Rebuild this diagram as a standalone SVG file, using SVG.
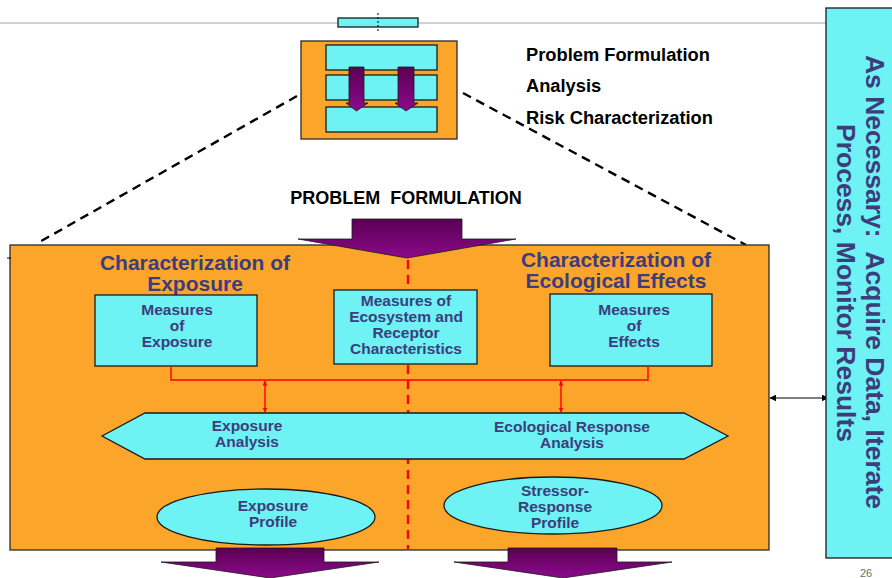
<svg xmlns="http://www.w3.org/2000/svg" width="892" height="578" viewBox="0 0 892 578">
  <defs>
    <linearGradient id="purpleFill" x1="0" y1="0" x2="0" y2="1">
      <stop offset="0" stop-color="#5a0052"/>
      <stop offset="1" stop-color="#8c0a8c"/>
    </linearGradient>
    <marker id="redHead" viewBox="0 0 10 10" refX="9" refY="5" markerWidth="5" markerHeight="5" orient="auto-start-reverse" markerUnits="userSpaceOnUse">
      <path d="M0,0 L10,5 L0,10 z" fill="#ff0000"/>
    </marker>
    <marker id="blackHead" viewBox="0 0 10 10" refX="9" refY="5" markerWidth="7" markerHeight="7" orient="auto-start-reverse" markerUnits="userSpaceOnUse">
      <path d="M0,0 L10,5 L0,10 z" fill="#000"/>
    </marker>
  </defs>
  <style>
    .box { fill: #6ef2f4; stroke: #1a1a1a; stroke-width: 1.3; }
    .orange { fill: #fba62b; stroke: #2a2a2a; stroke-width: 1.3; }
    .arrow { fill: url(#purpleFill); stroke: #1a1a1a; stroke-width: 0.8; }
    .lbl { font-family: "Liberation Sans", Arial, sans-serif; font-weight: bold; fill: #3d3d7c; text-anchor: middle; }
    .small { font-size: 15.5px; }
    .head { font-size: 21px; }
    .side { font-size: 26.5px; }
    .black { font-family: "Liberation Sans", Arial, sans-serif; font-weight: bold; fill: #000; }
    .dash { fill: none; stroke: #000; stroke-width: 2.4; stroke-dasharray: 9 6; }
    .red { fill: none; stroke: #ff0000; stroke-width: 1.4; }
  </style>

  <!-- header rule and small title bar -->
  <line x1="0" y1="23" x2="826" y2="23" stroke="#a4a2b0" stroke-width="1.2"/>
  <rect x="338" y="18" width="80" height="9" class="box"/>
  <line x1="378" y1="13" x2="378" y2="32" stroke="#000" stroke-width="1" stroke-dasharray="2 2"/>

  <!-- overview thumbnail -->
  <g id="overview">
    <rect x="301" y="41" width="156" height="98" class="orange"/>
    <rect x="326" y="45" width="111" height="25" class="box"/>
    <rect x="326" y="75" width="111" height="25" class="box"/>
    <rect x="326" y="107" width="111" height="25" class="box"/>
    <path d="M349,67 H364 V103 H368 L356.5,111 L346,103 H349 Z" class="arrow"/>
    <path d="M398,67 H414 V103 H418 L406,111 L395,103 H398 Z" class="arrow"/>
  </g>

  <g id="phase-legend">
    <text x="526" y="61" class="black" font-size="18.3">Problem Formulation</text>
    <text x="526" y="92" class="black" font-size="18.3">Analysis</text>
    <text x="526" y="124" class="black" font-size="18.3">Risk Characterization</text>
  </g>

  <!-- zoom guide lines -->
  <g id="connectors">
    <line x1="297" y1="96" x2="36" y2="244" class="dash"/>
    <line x1="463" y1="93" x2="746" y2="245" class="dash"/>
  </g>

  <text x="406" y="204" class="black" font-size="18" text-anchor="middle" xml:space="preserve">PROBLEM  FORMULATION</text>

  <!-- analysis phase panel -->
  <g id="analysis-panel">
    <rect x="10" y="245" width="759" height="305" class="orange"/>
    <line x1="7" y1="258" x2="11" y2="258" stroke="#000" stroke-width="1"/>
  </g>

  <g id="problem-arrow">
    <path d="M352,219 H462 V239 H516 L407,258 L298,239 H352 Z" class="arrow"/>
  </g>

  <line x1="408" y1="260" x2="408" y2="550" stroke="#ff0000" stroke-width="2.4" stroke-dasharray="9 6"/>

  <g id="exposure-title">
    <text class="lbl head"><tspan x="195" y="270">Characterization of</tspan><tspan x="195" dy="21">Exposure</tspan></text>
  </g>
  <g id="effects-title">
    <text class="lbl head"><tspan x="616" y="267">Characterization of</tspan><tspan x="616" dy="21">Ecological Effects</tspan></text>
  </g>

  <g id="measures-exposure">
    <rect x="95" y="295" width="162" height="71" class="box"/>
    <text class="lbl small"><tspan x="177" y="315">Measures</tspan><tspan x="177" dy="16">of</tspan><tspan x="177" dy="16">Exposure</tspan></text>
  </g>

  <g id="measures-ecosystem">
    <rect x="334" y="290" width="143" height="74" class="box"/>
    <text class="lbl small"><tspan x="406" y="306">Measures of</tspan><tspan x="406" dy="16">Ecosystem and</tspan><tspan x="406" dy="16">Receptor</tspan><tspan x="406" dy="16">Characteristics</tspan></text>
  </g>

  <g id="measures-effects">
    <rect x="550" y="294" width="162" height="72" class="box"/>
    <text class="lbl small"><tspan x="634" y="315">Measures</tspan><tspan x="634" dy="16">of</tspan><tspan x="634" dy="16">Effects</tspan></text>
  </g>

  <g id="links">
    <polyline points="171,366 171,380 648,380 648,366" class="red"/>
    <line x1="265" y1="381" x2="265" y2="412" class="red" marker-start="url(#redHead)" marker-end="url(#redHead)"/>
    <line x1="561" y1="381" x2="561" y2="412" class="red" marker-start="url(#redHead)" marker-end="url(#redHead)"/>
    <line x1="770" y1="398" x2="828" y2="398" stroke="#000" stroke-width="1.2" marker-start="url(#blackHead)" marker-end="url(#blackHead)"/>
  </g>

  <g id="analysis-band">
    <polygon points="102,436 145,413 684,413 728,436 684,459 145,459" class="box"/>
    <text class="lbl small"><tspan x="247" y="431">Exposure</tspan><tspan x="247" dy="16">Analysis</tspan></text>
    <text class="lbl small"><tspan x="572" y="432">Ecological Response</tspan><tspan x="572" dy="16">Analysis</tspan></text>
  </g>

  <g id="exposure-profile">
    <ellipse cx="266" cy="517" rx="109" ry="28" class="box"/>
    <text class="lbl small"><tspan x="273" y="511">Exposure</tspan><tspan x="273" dy="16">Profile</tspan></text>
  </g>

  <g id="stressor-profile">
    <ellipse cx="553" cy="505.5" rx="109" ry="28.5" class="box"/>
    <text class="lbl small"><tspan x="555" y="496">Stressor-</tspan><tspan x="555" dy="16">Response</tspan><tspan x="555" dy="16">Profile</tspan></text>
  </g>

  <g id="output-arrows">
    <path d="M216,548 H324 V562 H379 L270,578 L161,562 H216 Z" class="arrow"/>
    <path d="M508,548 H617 V562 H672 L563,578 L454,562 H508 Z" class="arrow"/>
  </g>

  <!-- iterative side panel -->
  <g id="side-panel">
    <rect x="826" y="8" width="68" height="550" class="box"/>
    <text class="lbl side" transform="translate(866,282) rotate(90)" xml:space="preserve">As Necessary:  Acquire Data, Iterate</text>
    <text class="lbl side" transform="translate(837,283) rotate(90)">Process, Monitor Results</text>
  </g>

  <text x="866" y="577" font-family="Liberation Sans, Arial, sans-serif" font-size="11" fill="#6a6a78" text-anchor="middle">26</text>
</svg>
